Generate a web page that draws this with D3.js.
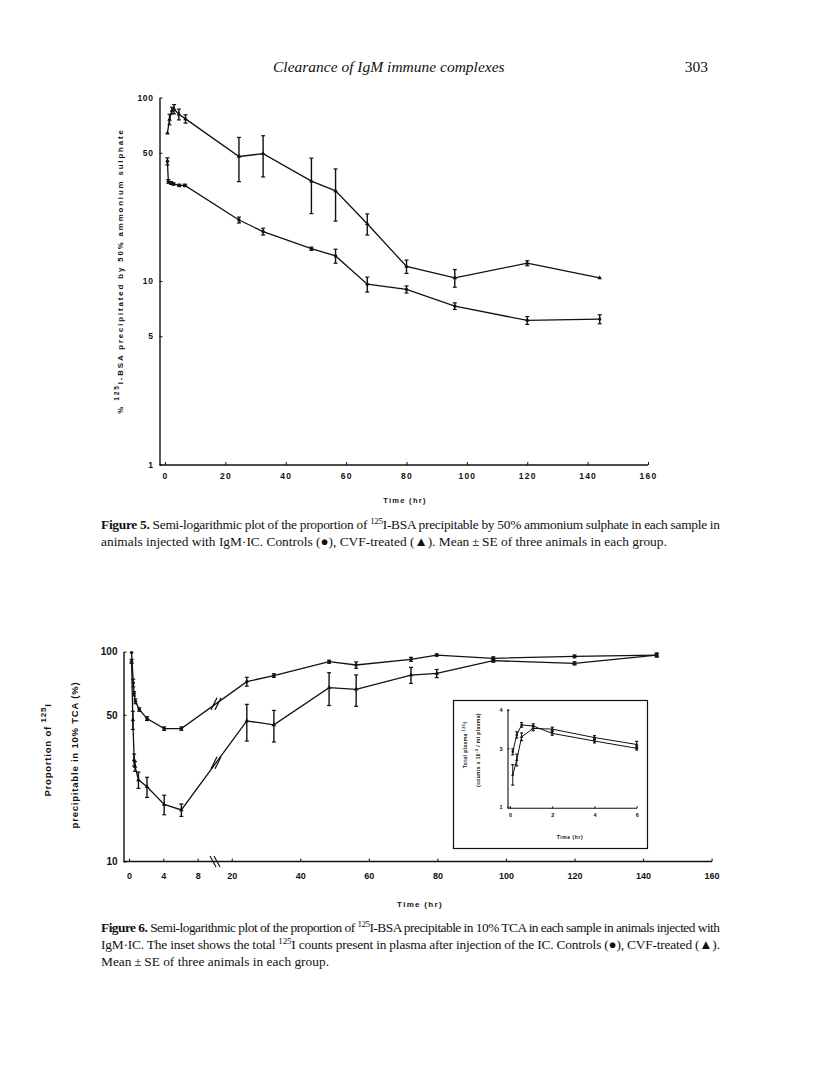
<!DOCTYPE html>
<html>
<head>
<meta charset="utf-8">
<script src="https://cdn.jsdelivr.net/npm/d3@7"></script>
<style>
  body { margin: 0; background: #fff; }
  svg { display: block; }
  .ax text { font-family: "Liberation Sans", Arial, sans-serif; font-weight: bold; fill: #111; }
  .ax path, .ax line { stroke: #111; }
</style>
</head>
<body>
<script>
// ---------------- DATA ----------------
// Figure 5: % 125I-BSA precipitated by 50% ammonium sulphate
const fig5XTicks = [0, 20, 40, 60, 80, 100, 120, 140, 160];
const fig5YTicks = [1, 5, 10, 50, 100];
const fig5TimeCVF = [0.8, 1.5, 2.3, 3, 4.6, 6.8, 24.5, 32.5, 48.5, 56.5, 67, 80, 96, 120, 144];
const fig5ValCVF  = [64, 76, 85, 86.5, 81, 76.5, 47.7, 49.4, 35, 31, 20.5, 12, 10.4, 12.5, 10.4];
const fig5SeCVF   = [0, 5, 3.5, 5, 5.5, 4, 12.9, 12.5, 11.7, 9.8, 2.7, 1, 1.15, 0.4, 0];
const fig5TimeCtl = [0.8, 1.1, 2, 2.8, 4.7, 6.6, 24.5, 32.5, 48.5, 56.5, 67, 80, 96, 120, 144];
const fig5ValCtl  = [44.9, 34.9, 34.2, 33.8, 33.2, 33.2, 21.5, 18.6, 15.0, 13.7, 9.6, 9.0, 7.3, 6.1, 6.2];
const fig5SeCtl   = [2, 0.8, 0.6, 0.5, 0.5, 0.5, 0.8, 0.8, 0.3, 1.2, 0.9, 0.4, 0.3, 0.3, 0.35];

// Figure 6: proportion of 125I precipitable in 10% TCA (%)
const fig6XTicksEarly = [0, 4, 8];
const fig6XTicksLate = [20, 40, 60, 80, 100, 120, 140, 160];
const fig6YTicks = [10, 50, 100];
const fig6TimeCtl = [0.3, 0.5, 0.6, 0.75, 1.2, 2.1, 4.1, 6.1, 24.4, 32.3, 48.4, 56.3, 72.3, 79.8, 96.3, 120, 144];
const fig6ValCtl  = [99, 71, 63, 58, 53, 48, 43, 43, 72, 77, 89.6, 86.4, 92, 96.4, 93, 95, 96.4];
const fig6SeCtl   = [0, 3, 1.5, 1.5, 1, 1, 0.8, 0.8, 3.5, 1.5, 1.5, 3, 2, 1.2, 1.5, 1.5, 2];
const fig6TimeCVF = [0.3, 0.45, 0.6, 0.7, 1.1, 2.1, 4.1, 6.1, 24.4, 32.3, 48.4, 56.3, 72.3, 79.8, 96.3, 120, 144];
const fig6ValCVF  = [90, 47.3, 30.5, 28.4, 24.5, 22.7, 18.7, 17.6, 46.8, 44.8, 67.4, 66.2, 77.4, 78.8, 90.6, 88, 96.4];
const fig6SeCVF   = [2, 4.7, 2, 1.5, 2.2, 2.5, 2, 1.2, 9.3, 7.7, 12, 11.3, 6.8, 3.5, 1.5, 1.5, 2];

// Inset: total plasma 125I (counts x 10^-3 / ml plasma)
const insetXTicks = [0, 2, 4, 6];
const insetYTicks = [1, 3, 4];
const insetTimeA = [0.13, 0.32, 0.55, 1.1, 2, 4, 6];
const insetValA  = [2.88, 3.35, 3.61, 3.58, 3.39, 3.19, 3.0];
const insetSeA   = [0.1, 0.08, 0.06, 0.06, 0.05, 0.05, 0.06];
const insetTimeB = [0.13, 0.32, 0.55, 1.1, 2, 4, 6];
const insetValB  = [2.09, 2.6, 3.3, 3.52, 3.5, 3.28, 3.1];
const insetSeB   = [0.35, 0.2, 0.1, 0.06, 0.05, 0.05, 0.08];

// ---------------- DRAWING ----------------
const svg = d3.select("body").append("svg").attr("width", 816).attr("height", 1091);
svg.append("rect").attr("width", 816).attr("height", 1091).attr("fill", "#fff");

const serif = '"Liberation Serif", "Times New Roman", serif';
const sans = '"Liberation Sans", Arial, sans-serif';

// Header
svg.append("text").attr("x", 273).attr("y", 72).attr("font-family", serif).attr("font-style", "italic")
  .attr("font-size", 15.5).attr("fill", "#111").text("Clearance of IgM immune complexes");
svg.append("text").attr("x", 708).attr("y", 72).attr("text-anchor", "end").attr("font-family", serif)
  .attr("font-size", 15.5).attr("fill", "#111").text("303");

function drawSeries(g, xf, yf, times, vals, ses, marker, opts = {}) {
  const pts = times.map((t, i) => ({ t, v: vals[i], se: ses[i] }));
  const line = d3.line().x(d => xf(d.t)).y(d => yf(d.v));
  g.append("path").datum(pts).attr("d", line).attr("fill", "none")
    .attr("stroke", "#111").attr("stroke-width", opts.lw || 1.3);
  const cap = opts.cap || 2;
  pts.filter(d => d.se > 0).forEach(d => {
    const x = xf(d.t), y1 = yf(d.v + d.se), y2 = yf(Math.max(d.v - d.se, 0.01));
    g.append("line").attr("x1", x).attr("x2", x).attr("y1", y1).attr("y2", y2)
      .attr("stroke", "#111").attr("stroke-width", opts.ew || 1.4);
    [y1, y2].forEach(yy => g.append("line").attr("x1", x - cap).attr("x2", x + cap)
      .attr("y1", yy).attr("y2", yy).attr("stroke", "#111").attr("stroke-width", 1.2));
  });
  const sym = d3.symbol().type(marker === "tri" ? d3.symbolTriangle : d3.symbolCircle).size(opts.ms || 9);
  g.selectAll(null).data(pts).enter().append("path").attr("d", sym)
    .attr("transform", d => `translate(${xf(d.t)},${yf(d.v)})`).attr("fill", "#111");
  return pts;
}

// ===== Figure 5 =====
const x5 = d3.scaleLinear().domain([0, 160]).range([165, 648]);
const y5 = d3.scaleLog().domain([1, 100]).range([464.5, 97.5]);
const g5 = svg.append("g");

const y5Axis = g5.append("g").attr("class", "ax").attr("transform", "translate(159.5,0)")
  .call(d3.axisLeft(y5).tickValues(fig5YTicks).tickFormat(d3.format("d")).tickSize(-3).tickSizeOuter(0).tickPadding(6));
y5Axis.selectAll("text").attr("font-size", 8.5).attr("letter-spacing", 0.6);
y5Axis.select(".domain").attr("stroke-width", 1.4);

const x5Axis = g5.append("g").attr("class", "ax").attr("transform", "translate(0,465)")
  .call(d3.axisBottom(x5).tickValues(fig5XTicks).tickFormat(d3.format("d")).tickSize(-3).tickSizeOuter(0).tickPadding(8));
x5Axis.select(".domain").remove();
x5Axis.selectAll("text").attr("font-size", 8.5).attr("letter-spacing", 1.2);
g5.append("line").attr("x1", 159.5).attr("x2", x5(160)).attr("y1", 465).attr("y2", 465)
  .attr("stroke", "#111").attr("stroke-width", 1.4);

g5.append("text").attr("x", 405).attr("y", 503).attr("text-anchor", "middle").attr("font-family", sans)
  .attr("font-weight", "bold").attr("font-size", 7.5).attr("letter-spacing", 1.3).attr("fill", "#111").text("Time (hr)");

const yt5 = g5.append("text").attr("transform", "translate(123,271) rotate(-90)").attr("text-anchor", "middle")
  .attr("font-family", sans).attr("font-weight", "bold").attr("font-size", 7.8).attr("letter-spacing", 1.9).attr("fill", "#111");
yt5.append("tspan").text("% ");
yt5.append("tspan").attr("dy", -4).attr("font-size", 6.5).text("125");
yt5.append("tspan").attr("dy", 4).text("I-BSA precipitated by 50% ammonium sulphate");

drawSeries(g5, x5, y5, fig5TimeCVF, fig5ValCVF, fig5SeCVF, "tri");
drawSeries(g5, x5, y5, fig5TimeCtl, fig5ValCtl, fig5SeCtl, "circ");

// Caption 5
function caption(y, parts, justify) {
  const t = svg.append("text").attr("x", 101).attr("y", y).attr("font-family", serif)
    .attr("font-size", 13.4).attr("fill", "#111");
  if (justify) t.attr("textLength", 619).attr("lengthAdjust", "spacing");
  parts.forEach(p => {
    const s = t.append("tspan").text(p.t);
    if (p.b) s.attr("font-weight", "bold");
    if (p.sup) s.attr("dy", -5).attr("font-size", 9);
    if (p.after) s.attr("dy", 5);
  });
}
caption(529, [{ t: "Figure 5.", b: true }, { t: " Semi-logarithmic plot of the proportion of " }, { t: "125", sup: true },
  { t: "I-BSA precipitable by 50% ammonium sulphate in each sample in", after: true }], true);
caption(546, [{ t: "animals injected with IgM\u00B7IC. Controls (\u25CF), CVF-treated (\u25B2). Mean\u2009\u00B1\u2009SE of three animals in each group." }], false);

// ===== Figure 6 =====
const x6a = d3.scaleLinear().domain([0, 10]).range([129, 214.8]);
const x6b = d3.scaleLinear().domain([15, 160]).range([214.6, 711.6]);
const x6 = t => (t <= 10 ? x6a(t) : x6b(t));
const y6 = d3.scaleLog().domain([10, 100]).range([861.5, 651.7]);
const g6 = svg.append("g");

const y6Axis = g6.append("g").attr("class", "ax").attr("transform", "translate(123.5,0)")
  .call(d3.axisLeft(y6).tickValues(fig6YTicks).tickFormat(d3.format("d")).tickSize(-3).tickSizeOuter(0).tickPadding(6));
y6Axis.selectAll("text").attr("font-size", 10);
y6Axis.select(".domain").attr("stroke-width", 1.4);

const xa = g6.append("g").attr("class", "ax").attr("transform", "translate(0,861.5)")
  .call(d3.axisBottom(x6a).tickValues(fig6XTicksEarly).tickFormat(d3.format("d")).tickSize(-3).tickSizeOuter(0).tickPadding(11));
const xb = g6.append("g").attr("class", "ax").attr("transform", "translate(0,861.5)")
  .call(d3.axisBottom(x6b).tickValues(fig6XTicksLate).tickFormat(d3.format("d")).tickSize(-3).tickSizeOuter(0).tickPadding(11));
[xa, xb].forEach(a => { a.select(".domain").remove(); a.selectAll("text").attr("font-size", 9); });
g6.append("line").attr("x1", 123.5).attr("x2", 712).attr("y1", 861.5).attr("y2", 861.5)
  .attr("stroke", "#111").attr("stroke-width", 1.4);
// axis break mark
[-2, 2].forEach(dx => g6.append("line").attr("x1", 212 + dx).attr("x2", 218 + dx).attr("y1", 856).attr("y2", 867)
  .attr("stroke", "#111").attr("stroke-width", 1.2));

g6.append("text").attr("x", 420).attr("y", 907).attr("text-anchor", "middle").attr("font-family", sans)
  .attr("font-weight", "bold").attr("font-size", 8).attr("letter-spacing", 1.3).attr("fill", "#111").text("Time (hr)");

const yl1 = g6.append("text").attr("transform", "translate(51,750) rotate(-90)").attr("text-anchor", "middle")
  .attr("font-family", sans).attr("font-weight", "bold").attr("font-size", 9.5).attr("letter-spacing", 0.8).attr("fill", "#111");
yl1.append("tspan").text("Proportion of ");
yl1.append("tspan").attr("dy", -5).attr("font-size", 8).text("125");
yl1.append("tspan").attr("dy", 5).text("I");
g6.append("text").attr("transform", "translate(78,755) rotate(-90)").attr("text-anchor", "middle")
  .attr("font-family", sans).attr("font-weight", "bold").attr("font-size", 9.5).attr("letter-spacing", 0.8)
  .attr("fill", "#111").text("precipitable in 10% TCA (%)");

function breakMark(g, pts) {
  const i = pts.findIndex(d => d.t > 10);
  const a = pts[i - 1], b = pts[i];
  const xa1 = x6(a.t), xb1 = x6(b.t), ya1 = y6(a.v), yb1 = y6(b.v);
  const xm = 216, ym = ya1 + (yb1 - ya1) * (xm - xa1) / (xb1 - xa1);
  [-2, 2].forEach(dx => g.append("line").attr("x1", xm + dx - 3).attr("x2", xm + dx + 3)
    .attr("y1", ym + 6).attr("y2", ym - 6).attr("stroke", "#111").attr("stroke-width", 1.2));
}
const pCtl = drawSeries(g6, x6, y6, fig6TimeCtl, fig6ValCtl, fig6SeCtl, "circ");
const pCVF = drawSeries(g6, x6, y6, fig6TimeCVF, fig6ValCVF, fig6SeCVF, "tri");
breakMark(g6, pCtl);
breakMark(g6, pCVF);

// ===== Inset =====
const gi = svg.append("g");
gi.append("rect").attr("x", 453.5).attr("y", 700.5).attr("width", 194).attr("height", 148)
  .attr("fill", "#fff").attr("stroke", "#111").attr("stroke-width", 1.2);
const xi = d3.scaleLinear().domain([0, 6]).range([510, 636.7]);
const yi = d3.scaleLinear().domain([1, 3, 4]).range([806.7, 748.3, 710]);
const yiAx = gi.append("g").attr("class", "ax").attr("transform", "translate(507.5,0)")
  .call(d3.axisLeft(yi).tickValues(insetYTicks).tickFormat(d3.format("d")).tickSize(-2).tickSizeOuter(0).tickPadding(5));
yiAx.selectAll("text").attr("font-size", 5.5);
yiAx.select(".domain").attr("d", "M0.5,709V808.3").attr("stroke-width", 1.1);
const xiAx = gi.append("g").attr("class", "ax").attr("transform", "translate(0,808.3)")
  .call(d3.axisBottom(xi).tickValues(insetXTicks).tickFormat(d3.format("d")).tickSize(-2).tickSizeOuter(0).tickPadding(5));
xiAx.selectAll("text").attr("font-size", 5.5);
xiAx.select(".domain").remove();
gi.append("line").attr("x1", 507.5).attr("x2", 637).attr("y1", 808.3).attr("y2", 808.3)
  .attr("stroke", "#111").attr("stroke-width", 1.1);
gi.append("text").attr("x", 570).attr("y", 839).attr("text-anchor", "middle").attr("font-family", sans)
  .attr("font-weight", "bold").attr("font-size", 5).attr("letter-spacing", 0.6).attr("fill", "#111").text("Time (hr)");
const il1 = gi.append("text").attr("transform", "translate(467,745) rotate(-90)").attr("text-anchor", "middle")
  .attr("font-family", sans).attr("font-weight", "bold").attr("font-size", 5).attr("letter-spacing", 0.4).attr("fill", "#111");
il1.append("tspan").text("Total plasma ");
il1.append("tspan").attr("dy", -2.5).attr("font-size", 4).text("125");
il1.append("tspan").attr("dy", 2.5).text("I");
const il2 = gi.append("text").attr("transform", "translate(480,750) rotate(-90)").attr("text-anchor", "middle")
  .attr("font-family", sans).attr("font-weight", "bold").attr("font-size", 5).attr("letter-spacing", 0.4).attr("fill", "#111");
il2.append("tspan").text("(counts x 10");
il2.append("tspan").attr("dy", -2.5).attr("font-size", 4).text("-3");
il2.append("tspan").attr("dy", 2.5).text(" / ml plasma)");

drawSeries(gi, xi, yi, insetTimeA, insetValA, insetSeA, "circ", { lw: 1, ew: 1, cap: 1.5, ms: 5 });
drawSeries(gi, xi, yi, insetTimeB, insetValB, insetSeB, "tri", { lw: 1, ew: 1, cap: 1.5, ms: 5 });

// Caption 6
caption(932, [{ t: "Figure 6.", b: true }, { t: " Semi-logarithmic plot of the proportion of " }, { t: "125", sup: true },
  { t: "I-BSA precipitable in 10% TCA in each sample in animals injected with", after: true }], true);
caption(949, [{ t: "IgM\u00B7IC. The inset shows the total " }, { t: "125", sup: true },
  { t: "I counts present in plasma after injection of the IC. Controls (\u25CF), CVF-treated (\u25B2).", after: true }], true);
caption(966, [{ t: "Mean\u2009\u00B1\u2009SE of three animals in each group." }], false);
</script>
</body>
</html>
